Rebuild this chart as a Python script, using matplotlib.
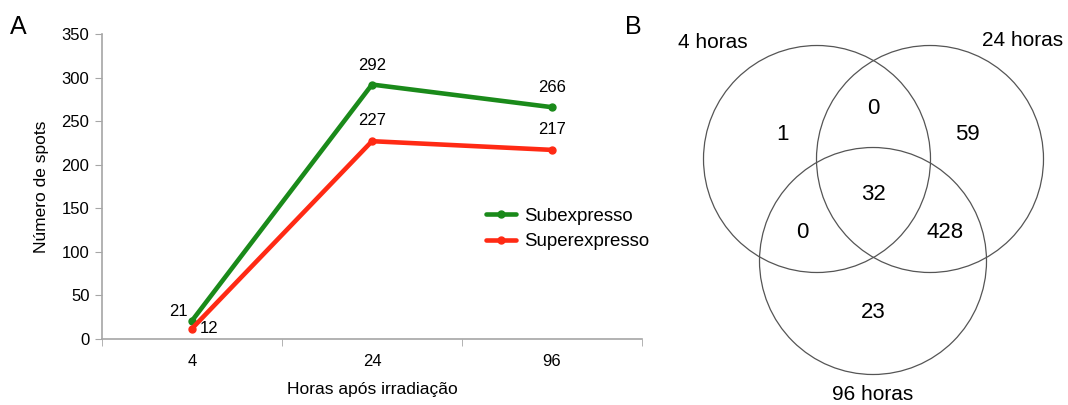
import matplotlib
matplotlib.use("Agg")
import matplotlib.pyplot as plt
from matplotlib.patches import Circle

plt.rcParams['font.family'] = ['Liberation Sans', 'DejaVu Sans']

# Painel A: número de spots por tempo
horas = ["4", "24", "96"]
subexpresso = [21, 292, 266]
superexpresso = [12, 227, 217]

# Painel B: diagrama de Venn
rotulos_venn = ["4 horas", "24 horas", "96 horas"]
# regiões: só 4h, só 24h, só 96h, 4h&24h, 4h&96h, 24h&96h, todos
contagens_venn = [1, 59, 23, 0, 0, 428, 32]

W, H = 1068, 405
fig = plt.figure(figsize=(W / 100, H / 100), dpi=100)

cinza = "#a6a6a6"
ax = fig.add_axes([102 / W, 1 - 339 / H, 540 / W, 305 / H])
x = list(range(len(horas)))
ax.plot(x, subexpresso, color="#1a8a1a", lw=3.3, marker="o", ms=5,
        label="Subexpresso", solid_capstyle="round")
ax.plot(x, superexpresso, color="#ff2a14", lw=3.3, marker="o", ms=5,
        label="Superexpresso", solid_capstyle="round")

ax.set_xlim(-0.5, 2.5)
ax.set_ylim(0, 350)
ax.set_yticks(range(0, 351, 50))
ax.set_xticks(x)
ax.set_xticklabels(horas)
ax.set_xticks([-0.5, 0.5, 1.5, 2.5], minor=True)
ax.tick_params(axis="x", which="major", length=0, pad=11, labelsize=12)
ax.tick_params(axis="x", which="minor", length=5, color=cinza, direction="out")
ax.tick_params(axis="y", length=5, color=cinza, labelsize=12, pad=4)
for s in ["top", "right"]:
    ax.spines[s].set_visible(False)
for s in ["left", "bottom"]:
    ax.spines[s].set_color(cinza)
    ax.spines[s].set_linewidth(1.2)
ax.set_xlabel("Horas após irradiação", fontsize=12.5, labelpad=9)
ax.set_ylabel("Número de spots", fontsize=12.5, labelpad=9)

# rótulos dos pontos
ax.annotate(str(subexpresso[0]), (x[0], subexpresso[0]), xytext=(-10, 6.5),
            textcoords="offset points", ha="center", va="center", fontsize=12)
ax.annotate(str(superexpresso[0]), (x[0], superexpresso[0]), xytext=(12, 0),
            textcoords="offset points", ha="center", va="center", fontsize=12)
for i in x[1:]:
    ax.annotate(str(subexpresso[i]), (i, subexpresso[i]), xytext=(0, 14),
                textcoords="offset points", ha="center", va="center", fontsize=12)
    ax.annotate(str(superexpresso[i]), (i, superexpresso[i]), xytext=(0, 15),
                textcoords="offset points", ha="center", va="center", fontsize=12)

ax.legend(loc="upper left", bbox_to_anchor=(0.68, 0.485), frameon=False,
          fontsize=13.4, handlelength=1.6, handletextpad=0.45, labelspacing=0.45)

# Sobreposição em pixels para o Venn e letras dos painéis
ov = fig.add_axes([0, 0, 1, 1])
ov.set_xlim(0, W)
ov.set_ylim(H, 0)
ov.axis("off")
ov.patch.set_alpha(0)

centros = [(817, 159), (930, 159), (873, 261)]
raio = 113.5
for c in centros:
    ov.add_patch(Circle(c, raio, fill=False, ec="#555555", lw=0.9))

pos_rotulos = [(713, 43), (1023, 40), (873, 395)]
for (px, py), t in zip(pos_rotulos, rotulos_venn):
    ov.text(px, py, t, ha="center", va="center", fontsize=15)

pos_regioes = [(782, 135), (967, 135), (873, 313), (873, 108),
               (802, 233), (945, 233), (873, 195)]
for (px, py), n in zip(pos_regioes, contagens_venn):
    ov.text(px, py, str(n), ha="center", va="center", fontsize=16)

ov.text(18, 27, "A", ha="center", va="center", fontsize=18)
ov.text(633, 27, "B", ha="center", va="center", fontsize=18)

fig.savefig("out.png", dpi=100)
